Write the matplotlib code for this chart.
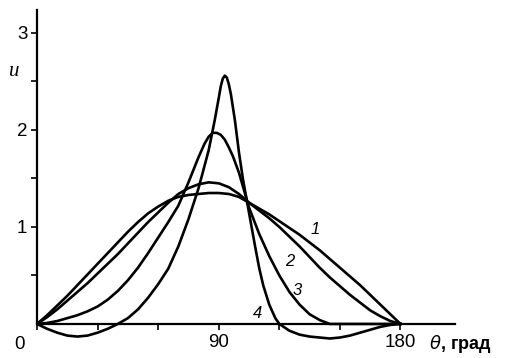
import matplotlib
matplotlib.use("Agg")
import matplotlib.pyplot as plt

# curve 1 (broad, flat top)
th1 = [0, 5, 10, 15, 20, 25, 30, 35, 40, 45, 50, 55, 60, 65, 70, 75, 80, 85, 90,
       95, 100, 105, 110, 115, 120, 125, 130, 135, 140, 145, 150, 155, 160, 165,
       170, 175, 180]
u1 = [0, 0.09, 0.19, 0.29, 0.40, 0.51, 0.62, 0.73, 0.84, 0.95, 1.05, 1.14, 1.21,
      1.27, 1.31, 1.33, 1.34, 1.35, 1.35, 1.34, 1.31, 1.25, 1.19, 1.13, 1.06,
      0.99, 0.92, 0.84, 0.76, 0.67, 0.58, 0.49, 0.40, 0.30, 0.20, 0.10, 0]

# curve 2
th2 = th1
u2 = [0, 0.07, 0.15, 0.24, 0.33, 0.42, 0.52, 0.62, 0.72, 0.83, 0.94, 1.05, 1.15,
      1.25, 1.34, 1.40, 1.44, 1.46, 1.45, 1.41, 1.34, 1.25, 1.17, 1.09, 1.00,
      0.90, 0.80, 0.69, 0.58, 0.48, 0.39, 0.30, 0.22, 0.14, 0.08, 0.03, 0]

# curve 3
th3 = [0, 5, 10, 15, 20, 25, 30, 35, 40, 45, 50, 55, 60, 65, 70, 75, 80, 83, 85,
       87, 89, 91, 93, 95, 97, 100, 105, 110, 115, 120, 125, 130, 135, 140, 145,
       180]
u3 = [0, 0.01, 0.03, 0.06, 0.09, 0.13, 0.18, 0.25, 0.34, 0.45, 0.58, 0.73, 0.89,
      1.05, 1.22, 1.46, 1.72, 1.86, 1.93, 1.97, 1.97, 1.95, 1.90, 1.82, 1.73,
      1.56, 1.20, 0.93, 0.70, 0.50, 0.33, 0.20, 0.10, 0.04, 0, 0]

# curve 4 (sharp peak, negative lobes)
th4 = [0, 5, 10, 15, 20, 25, 30, 35, 40, 45, 50, 55, 60, 65, 70, 75, 80, 85, 88,
       90, 91, 92, 93, 94, 95, 96, 98, 100, 102, 104, 106, 108, 110, 112, 115,
       118, 120, 125, 130, 135, 140, 145, 150, 155, 160, 165, 170, 175, 180]
u4 = [0, -0.05, -0.09, -0.12, -0.13, -0.12, -0.09, -0.05, 0, 0.06, 0.15, 0.27,
      0.41, 0.57, 0.80, 1.08, 1.40, 1.79, 2.10, 2.33, 2.45, 2.53, 2.56, 2.54,
      2.47, 2.37, 2.10, 1.77, 1.49, 1.26, 1.03, 0.80, 0.58, 0.40, 0.20, 0.06, 0,
      -0.07, -0.11, -0.13, -0.14, -0.15, -0.14, -0.12, -0.09, -0.06, -0.03,
      -0.01, 0]

curves = [(th1, u1), (th2, u2), (th3, u3), (th4, u4)]
labels = ["1", "2", "3", "4"]
label_pos = [(138, 0.97), (125, 0.64), (129, 0.35), (109, 0.11)]

fig = plt.figure(figsize=(5.05, 3.58), dpi=100)
ax = fig.add_axes([0.0733, 0.0355, 0.8277, 0.9374])

for th, u in curves:
    ax.plot(th, u, color="black", lw=1.9, solid_joinstyle="round")

for lab, (x, y) in zip(labels, label_pos):
    ax.text(x, y, lab, fontsize=12, style="italic", family="Liberation Sans",
            ha="center", va="center")

ax.set_xlim(0, 207)
ax.set_ylim(-0.22, 3.24)
for s in ["top", "right"]:
    ax.spines[s].set_visible(False)
ax.spines["bottom"].set_position(("data", 0))
ax.spines["left"].set_bounds(0, 3.24)
for s in ["bottom", "left"]:
    ax.spines[s].set_linewidth(1.6)

ax.set_xticks([0, 30, 60, 90, 120, 150, 180])
ax.set_xticklabels(["", "", "", "90", "", "", "180"])
ax.set_yticks([0.5, 1, 1.5, 2, 2.5, 3])
ax.set_yticklabels(["", "1", "", "2", "", "3"])
ax.tick_params(direction="out", length=4, width=1.2, labelsize=13.5, pad=3)
for t in ax.get_xticklabels() + ax.get_yticklabels():
    t.set_family("Liberation Sans")

ax.text(-8.5, -0.21, "0", fontsize=13.5, family="Liberation Sans",
        ha="center", va="center", clip_on=False)
ax.text(-11.5, 2.6, "u", fontsize=15, style="italic", family="Liberation Serif",
        ha="center", va="center", clip_on=False)
ax.text(194, -0.21, r"$\theta$, град", fontsize=13, family="Liberation Sans",
        weight="bold", ha="left", va="center", clip_on=False)

fig.savefig("out.png", dpi=100)
